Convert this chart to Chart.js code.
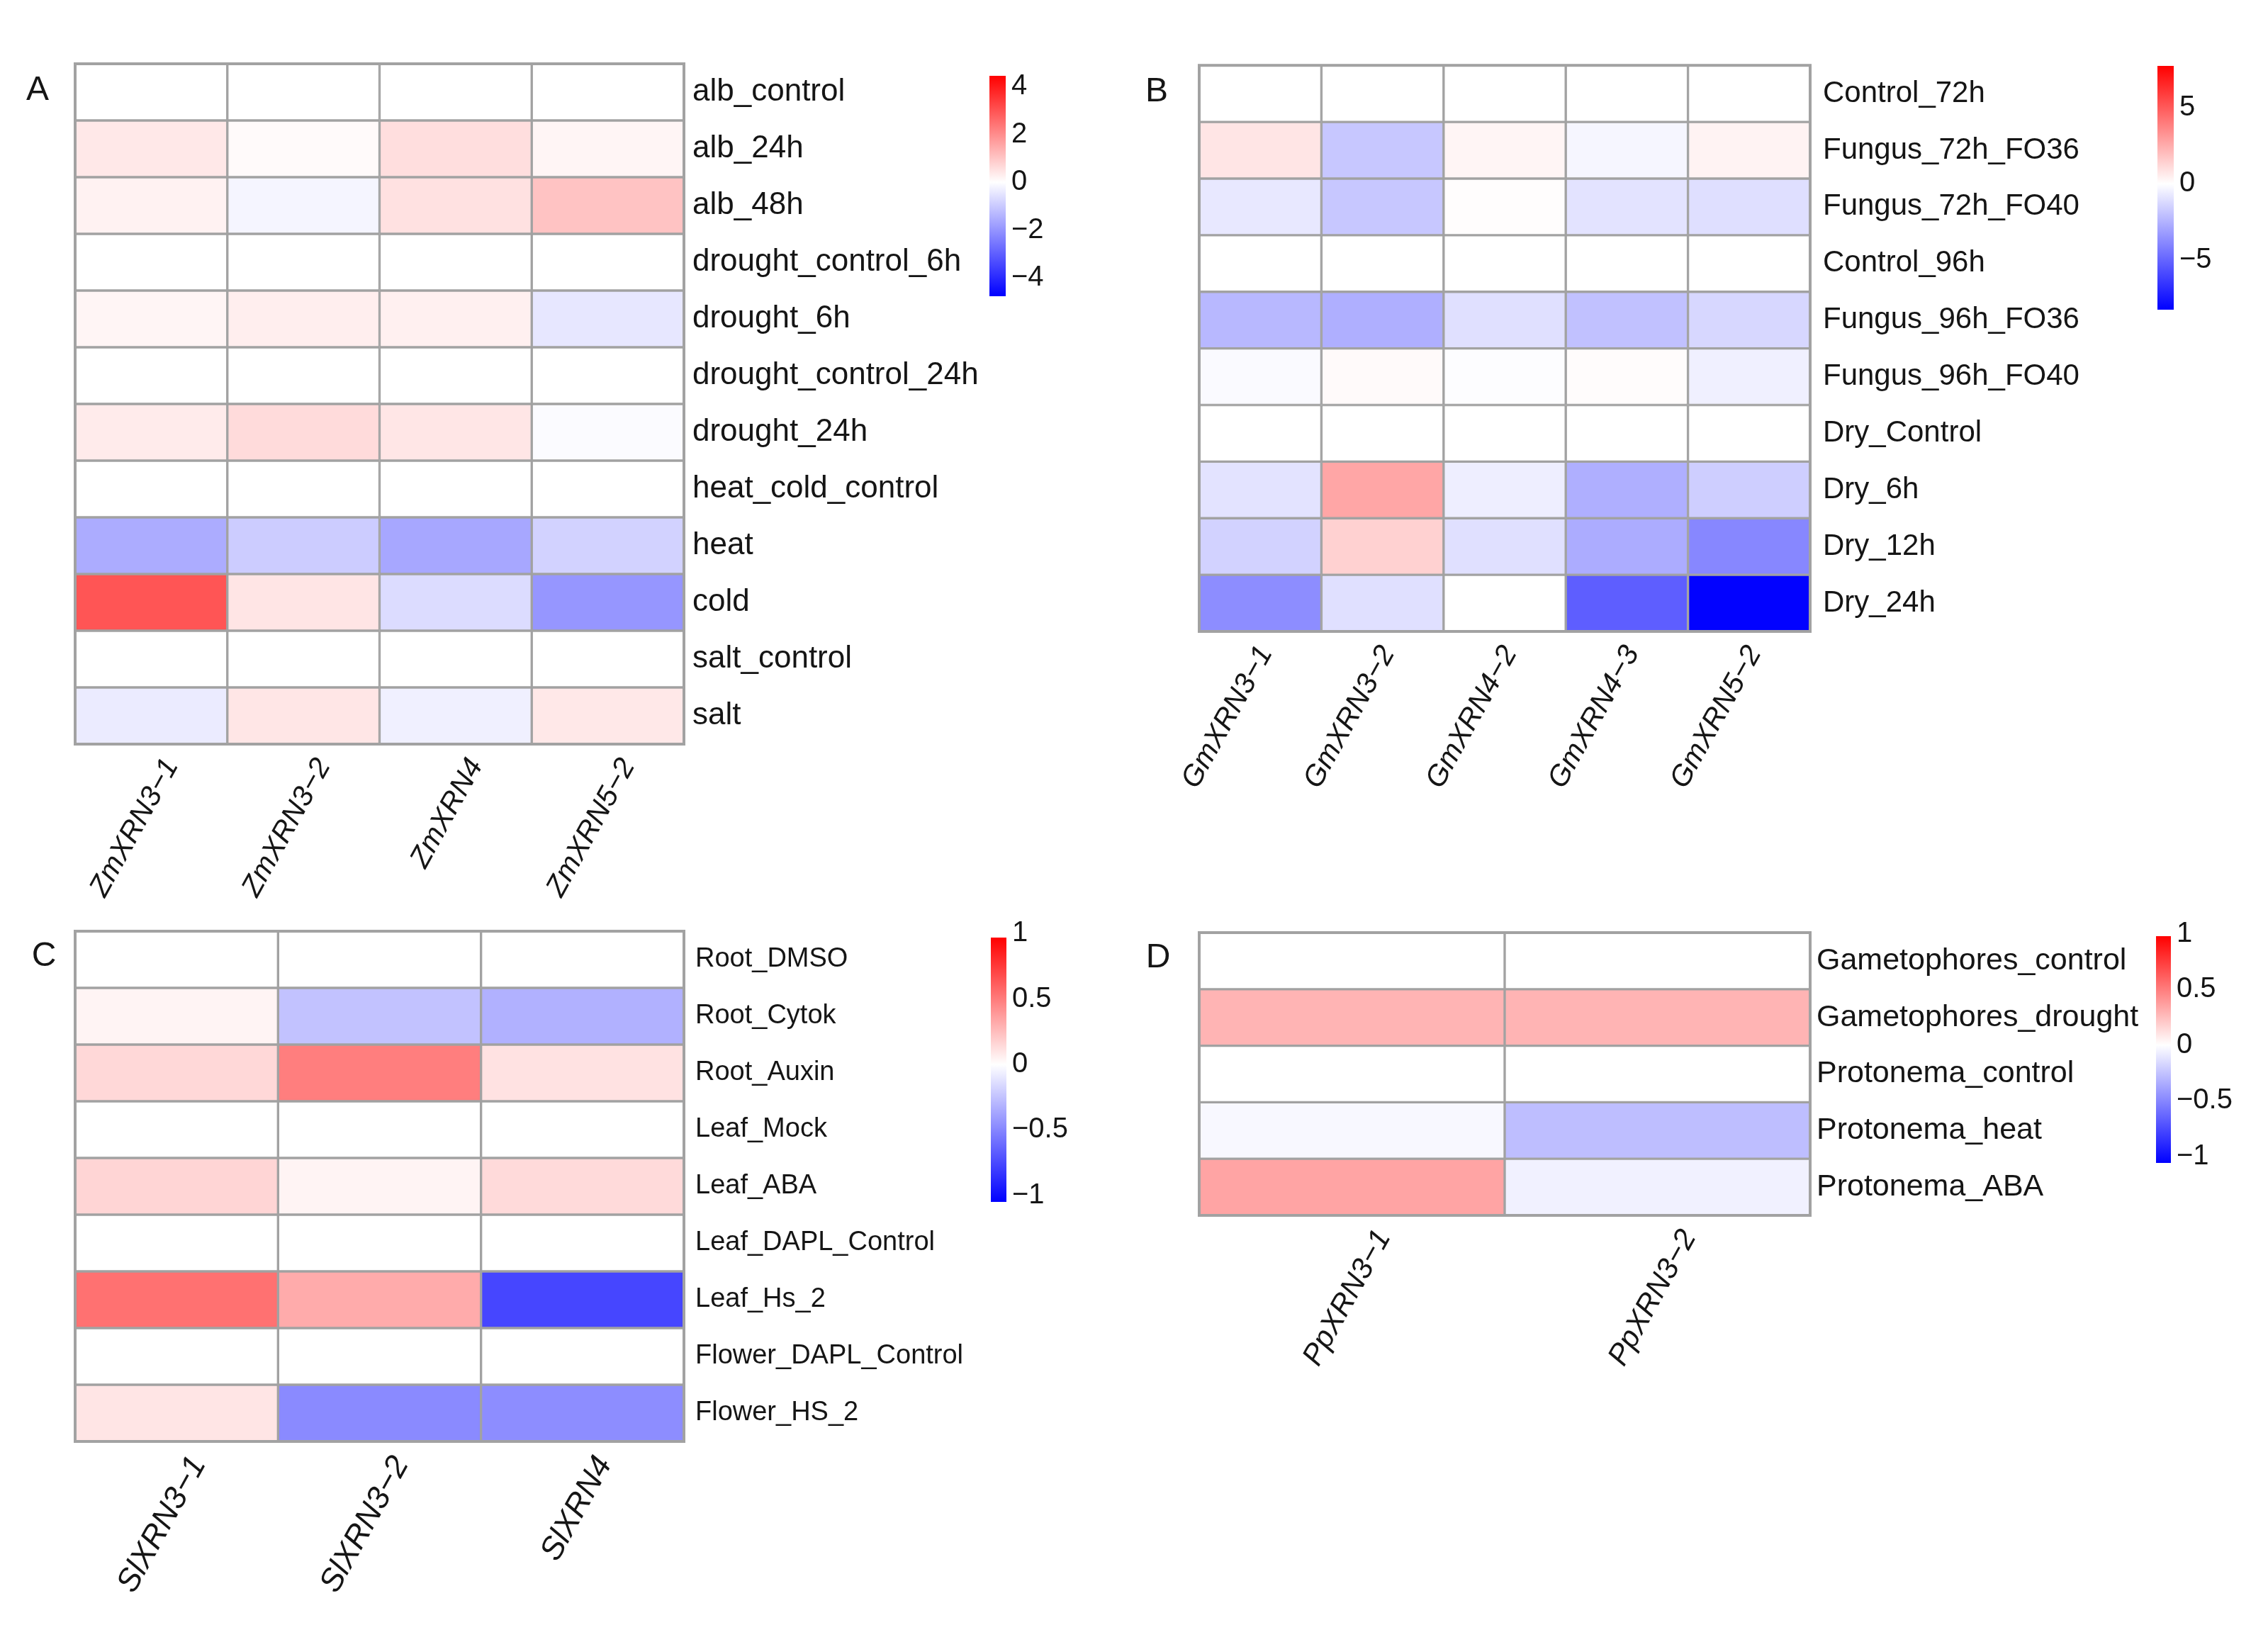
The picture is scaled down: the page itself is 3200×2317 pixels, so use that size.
<!DOCTYPE html>
<html>
<head>
<meta charset="utf-8">
<script src="https://cdn.jsdelivr.net/npm/chart.js@4.4.1/dist/chart.umd.min.js"></script>
<style>
  html, body { margin: 0; padding: 0; background: #fff; }
  #page { position: relative; width: 3200px; height: 2317px; overflow: hidden; background: #fff; }
  canvas { position: absolute; }
</style>
</head>
<body>
<div id="page"></div>
<script>
(() => {
	"use strict";

	// A - maize
	const zmGenes = ["ZmXRN3−1", "ZmXRN3−2", "ZmXRN4", "ZmXRN5−2"];
	const zmConditions = [
		"alb_control", "alb_24h", "alb_48h", "drought_control_6h", "drought_6h",
		"drought_control_24h", "drought_24h", "heat_cold_control", "heat", "cold",
		"salt_control", "salt",
	];
	const zmValues = [
		[0, 0, 0, 0],
		[0.4, 0.08, 0.58, 0.18],
		[0.23, -0.18, 0.53, 1.05],
		[0, 0, 0, 0],
		[0.18, 0.3, 0.27, -0.45],
		[0, 0, 0, 0],
		[0.35, 0.62, 0.44, -0.08],
		[0, 0, 0, 0],
		[-1.55, -0.95, -1.65, -0.85],
		[2.97, 0.45, -0.65, -1.96],
		[0, 0, 0, 0],
		[-0.38, 0.44, -0.28, 0.4],
	];
	const zmRange = [-4.77, 4.45];
	const zmTicks = [4, 2, 0, -2, -4];
	const zmTickLabels = ["4", "2", "0", "−2", "−4"];

	// B - soybean
	const gmGenes = ["GmXRN3−1", "GmXRN3−2", "GmXRN4−2", "GmXRN4−3", "GmXRN5−2"];
	const gmConditions = [
		"Control_72h", "Fungus_72h_FO36", "Fungus_72h_FO40", "Control_96h", "Fungus_96h_FO36",
		"Fungus_96h_FO40", "Dry_Control", "Dry_6h", "Dry_12h", "Dry_24h",
	];
	const gmValues = [
		[0, 0, 0, 0, 0],
		[0.8, -1.8, 0.3, -0.3, 0.35],
		[-0.75, -1.8, 0.05, -0.9, -1.05],
		[0, 0, 0, 0, 0],
		[-2.3, -2.6, -1.0, -2.0, -1.3],
		[-0.15, 0.15, -0.08, 0.08, -0.5],
		[0, 0, 0, 0, 0],
		[-0.9, 2.7, -0.55, -2.6, -1.6],
		[-1.45, 1.4, -1.0, -2.7, -3.9],
		[-3.7, -1.0, 0, -5.2, -8.2],
	];
	const gmRange = [-8.26, 7.74];
	const gmTicks = [5, 0, -5];
	const gmTickLabels = ["5", "0", "−5"];

	// C - tomato
	const slGenes = ["SlXRN3−1", "SlXRN3−2", "SlXRN4"];
	const slConditions = [
		"Root_DMSO", "Root_Cytok", "Root_Auxin", "Leaf_Mock", "Leaf_ABA",
		"Leaf_DAPL_Control", "Leaf_Hs_2", "Flower_DAPL_Control", "Flower_HS_2",
	];
	const slValues = [
		[0, 0, 0],
		[0.04, -0.25, -0.32],
		[0.15, 0.49, 0.11],
		[0, 0, 0],
		[0.16, 0.04, 0.14],
		[0, 0, 0],
		[0.54, 0.32, -0.76],
		[0, 0, 0],
		[0.1, -0.48, -0.47],
	];
	const slRange = [-1.05, 0.97];
	const slTicks = [1, 0.5, 0, -0.5, -1];
	const slTickLabels = ["1", "0.5", "0", "−0.5", "−1"];

	// D - moss
	const ppGenes = ["PpXRN3−1", "PpXRN3−2"];
	const ppConditions = [
		"Gametophores_control", "Gametophores_drought", "Protonema_control",
		"Protonema_heat", "Protonema_ABA",
	];
	const ppValues = [
		[0, 0],
		[0.29, 0.29],
		[0, 0],
		[-0.03, -0.27],
		[0.35, -0.06],
	];
	const ppRange = [-1.06, 0.98];
	const ppTicks = [1, 0.5, 0, -0.5, -1];
	const ppTickLabels = ["1", "0.5", "0", "−0.5", "−1"];

	const FONT = '"Liberation Sans", Arial, Helvetica, sans-serif';
	const INK = "#151515";
	const LINE = "#a2a2a2";
	Chart.defaults.font.family = FONT;
	Chart.defaults.color = INK;

	const page = document.getElementById("page");

	function makeCanvas(left, top, width, height) {
		const c = document.createElement("canvas");
		c.width = width;
		c.height = height;
		c.style.left = left + "px";
		c.style.top = top + "px";
		c.style.width = width + "px";
		c.style.height = height + "px";
		page.appendChild(c);
		return c;
	}

	// blue - white - red, white pinned at 0
	function heatColor(v, lo, hi) {
		const t = v >= 0 ? Math.min(v / hi, 1) : Math.min(v / lo, 1);
		const c = Math.round(255 * (1 - t));
		return v >= 0 ? `rgb(255,${c},${c})` : `rgb(${c},${c},255)`;
	}

	const frame = {
		id: "frame",
		afterDatasetsDraw(chart) {
			const { ctx, chartArea: a } = chart;
			ctx.save();
			ctx.strokeStyle = LINE;
			ctx.lineWidth = 4;
			ctx.strokeRect(a.left, a.top, a.right - a.left, a.bottom - a.top);
			ctx.restore();
		},
	};

	const panelTag = {
		id: "panelTag",
		afterDraw(chart, args, opts) {
			const { ctx, chartArea: a } = chart;
			ctx.save();
			ctx.font = `48px ${FONT}`;
			ctx.fillStyle = INK;
			ctx.textAlign = "center";
			ctx.textBaseline = "middle";
			ctx.fillText(opts.text, a.left + opts.dx, a.top + opts.dy);
			ctx.restore();
		},
	};

	function heatmap(p) {
		const [x0, y0, x1, y1] = p.box;
		const pad = { left: 110, top: 40, right: 10, bottom: 10 };
		const axisW = 600;
		const axisH = 320;
		const canvas = makeCanvas(
			x0 - pad.left, y0 - pad.top,
			pad.left + (x1 - x0) + axisW + pad.right,
			pad.top + (y1 - y0) + axisH + pad.bottom
		);
		const [lo, hi] = p.range;
		new Chart(canvas, {
			type: "bar",
			data: {
				labels: p.genes,
				datasets: p.conditions.map((name, i) => ({
					label: name,
					data: p.genes.map(() => [i, i + 1]),
					backgroundColor: p.values[i].map((v) => heatColor(v, lo, hi)),
					borderColor: LINE,
					borderWidth: 2,
					borderSkipped: false,
					barPercentage: 1,
					categoryPercentage: 1,
					grouped: false,
				})),
			},
			options: {
				responsive: false,
				animation: false,
				devicePixelRatio: 1,
				layout: { padding: pad },
				plugins: {
					legend: { display: false },
					tooltip: { enabled: false },
					panelTag: { text: p.tag, dx: p.tagDx, dy: p.tagDy },
				},
				scales: {
					x: {
						type: "category",
						position: "bottom",
						grid: { display: false, drawTicks: false },
						border: { display: false },
						ticks: {
							autoSkip: false,
							minRotation: 61,
							maxRotation: 61,
							labelOffset: p.colOffset,
							padding: 12,
							font: { size: p.colFont, style: "italic" },
						},
						afterFit(s) { s.height = axisH; },
					},
					y: {
						type: "linear",
						position: "right",
						reverse: true,
						min: 0,
						max: p.conditions.length,
						grid: { display: false, drawTicks: false },
						border: { display: false },
						afterBuildTicks(s) {
							s.ticks = p.conditions.map((_, i) => ({ value: i + 0.5 }));
						},
						ticks: {
							autoSkip: false,
							padding: p.labelX - x1,
							font: { size: p.rowFont },
							callback: (v, i) => p.conditions[i],
						},
						afterFit(s) { s.width = axisW; },
					},
				},
			},
			plugins: [frame, panelTag],
		});
	}

	function colorbar(p) {
		const [x0, y0, x1, y1] = p.box;
		const pad = { left: 10, top: 40, right: 10, bottom: 40 };
		const axisW = 150;
		const canvas = makeCanvas(
			x0 - pad.left, y0 - pad.top,
			pad.left + (x1 - x0) + axisW + pad.right,
			pad.top + (y1 - y0) + pad.bottom
		);
		const [lo, hi] = p.range;
		new Chart(canvas, {
			type: "bar",
			data: {
				labels: [""],
				datasets: [{
					data: [[lo, hi]],
					backgroundColor(ctx) {
						const { chart } = ctx;
						if (!chart.chartArea) return "#fff";
						const y = chart.scales.y;
						const g = chart.ctx.createLinearGradient(0, y.getPixelForValue(lo), 0, y.getPixelForValue(hi));
						g.addColorStop(0, "#0000ff");
						g.addColorStop((0 - lo) / (hi - lo), "#ffffff");
						g.addColorStop(1, "#ff0000");
						return g;
					},
					borderWidth: 0,
					barPercentage: 1,
					categoryPercentage: 1,
				}],
			},
			options: {
				responsive: false,
				animation: false,
				devicePixelRatio: 1,
				layout: { padding: pad },
				plugins: { legend: { display: false }, tooltip: { enabled: false } },
				scales: {
					x: { display: false },
					y: {
						type: "linear",
						position: "right",
						min: lo,
						max: hi,
						grid: { display: false, drawTicks: false },
						border: { display: false },
						afterBuildTicks(s) {
							s.ticks = p.ticks.map((v) => ({ value: v }));
						},
						ticks: {
							autoSkip: false,
							padding: 8,
							font: { size: 40 },
							callback: (v, i) => p.tickLabels[i],
						},
						afterFit(s) { s.width = axisW; },
					},
				},
			},
		});
	}

	heatmap({
		genes: zmGenes, conditions: zmConditions, values: zmValues, range: zmRange,
		box: [106, 90, 965, 1050], labelX: 977, rowFont: 44, colFont: 41, colOffset: 29,
		tag: "A", tagDx: -53, tagDy: 38,
	});
	colorbar({ range: zmRange, ticks: zmTicks, tickLabels: zmTickLabels, box: [1396, 107, 1419, 418] });

	heatmap({
		genes: gmGenes, conditions: gmConditions, values: gmValues, range: gmRange,
		box: [1692, 89, 2554, 891], labelX: 2572, rowFont: 42, colFont: 41, colOffset: 8,
		tag: "B", tagDx: -60, tagDy: 38,
	});
	colorbar({ range: gmRange, ticks: gmTicks, tickLabels: gmTickLabels, box: [3044, 93, 3067, 437] });

	heatmap({
		genes: slGenes, conditions: slConditions, values: slValues, range: slRange,
		box: [106, 1314, 965, 2034], labelX: 981, rowFont: 38, colFont: 45, colOffset: 31,
		tag: "C", tagDx: -44, tagDy: 36,
	});
	colorbar({ range: slRange, ticks: slTicks, tickLabels: slTickLabels, box: [1398, 1323, 1420, 1696] });

	heatmap({
		genes: ppGenes, conditions: ppConditions, values: ppValues, range: ppRange,
		box: [1692, 1316, 2554, 1715], labelX: 2563, rowFont: 43, colFont: 42, colOffset: 45,
		tag: "D", tagDx: -58, tagDy: 36,
	});
	colorbar({ range: ppRange, ticks: ppTicks, tickLabels: ppTickLabels, box: [3042, 1321, 3063, 1641] });
})();
</script>
</body>
</html>
